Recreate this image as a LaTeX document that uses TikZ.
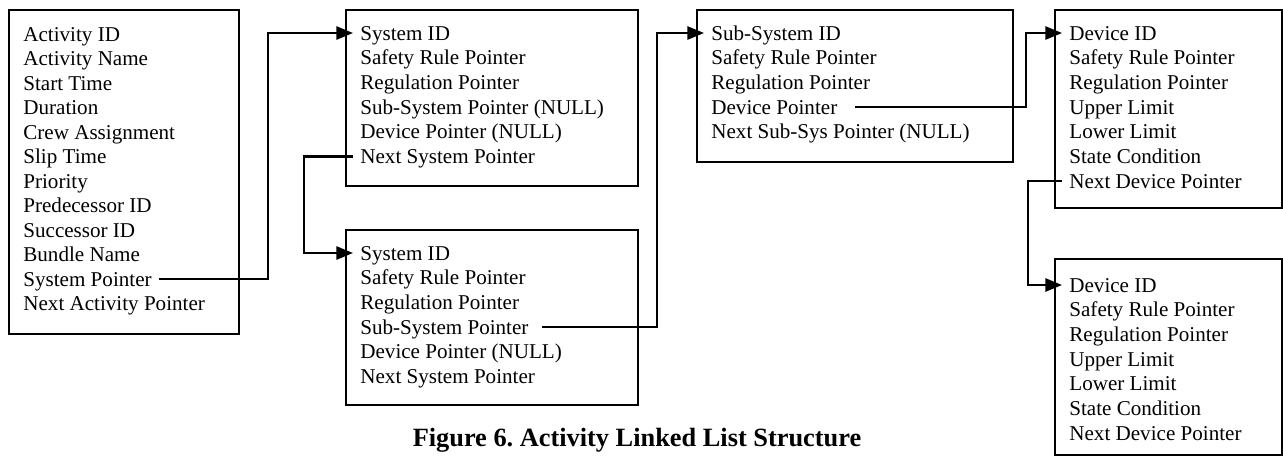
\documentclass[tikz,border=0pt]{standalone}
\usepackage{fontspec}
\setmainfont{Liberation Serif}
\usetikzlibrary{arrows.meta}
\frenchspacing

\tikzset{
  rec/.style={draw, line width=0.8pt},
  field/.style={anchor=west, inner xsep=4pt, inner ysep=0pt, text height=8pt, text depth=0pt, font=\fontsize{12}{14}\selectfont},
  link/.style={line width=1.3pt, -{Triangle[length=9.5pt, width=7.5pt]}}
}

\begin{document}
\begin{tikzpicture}[x=0.02cm, y=-0.02cm]
\useasboundingbox (0,0) rectangle (1283,458);

% activity record
\draw[rec] (9,10) rectangle (239,334);
\foreach \txt [count=\i] in {Activity ID, Activity Name, Start Time, Duration, Crew Assignment, Slip Time, Priority, Predecessor ID, Successor ID, Bundle Name, System Pointer, Next Activity Pointer}
  \node[field] (a\i) at (16,{9.5+24.5*\i}) {\txt};

% system records
\draw[rec] (346,10) rectangle (638,186);
\foreach \txt [count=\i] in {System ID, Safety Rule Pointer, Regulation Pointer, Sub-System Pointer (NULL), Device Pointer (NULL), Next System Pointer}
  \node[field] (b\i) at (353,{8.3+24.7*\i}) {\txt};

\draw[rec] (346,230) rectangle (638,405);
\foreach \txt [count=\i] in {System ID, Safety Rule Pointer, Regulation Pointer, Sub-System Pointer, Device Pointer (NULL), Next System Pointer}
  \node[field] (c\i) at (353,{228.3+24.7*\i}) {\txt};

% sub-system record
\draw[rec] (697,10) rectangle (1013,162);
\foreach \txt [count=\i] in {Sub-System ID, Safety Rule Pointer, Regulation Pointer, Device Pointer, Next Sub-Sys Pointer (NULL)}
  \node[field] (d\i) at (704,{8.3+24.7*\i}) {\txt};

% device records
\draw[rec] (1055,10) rectangle (1282,208);
\foreach \txt [count=\i] in {Device ID, Safety Rule Pointer, Regulation Pointer, Upper Limit, Lower Limit, State Condition, Next Device Pointer}
  \node[field] (e\i) at (1062,{8.3+24.7*\i}) {\txt};

\draw[rec] (1055,259) rectangle (1282,455);
\foreach \txt [count=\i] in {Device ID, Safety Rule Pointer, Regulation Pointer, Upper Limit, Lower Limit, State Condition, Next Device Pointer}
  \node[field] (f\i) at (1062,{260.3+24.7*\i}) {\txt};

% pointers
\coordinate (v1) at (268,0);
\coordinate (v2) at (304,0);
\coordinate (v3) at (657,0);
\coordinate (v4) at (1026,0);
\coordinate (v5) at (1028,0);
\draw[link] (a11.east) -| (v1 |- b1.west) -- (b1.west);
\draw[link] (b6.west) -| (v2 |- c1.west) -- (c1.west);
\draw[link, shorten <=3.4pt] (c4.east) -| (v3 |- d1.west) -- (d1.west);
\draw[link, shorten <=5.7pt] (d4.east) -| (v4 |- e1.west) -- (e1.west);
\draw[link] (e7.west) -| (v5 |- f1.west) -- (f1.west);

\node[font=\bfseries\fontsize{15}{18}\selectfont] (cap) at (637,440) {Figure 6. Activity Linked List Structure};
\end{tikzpicture}
\end{document}
